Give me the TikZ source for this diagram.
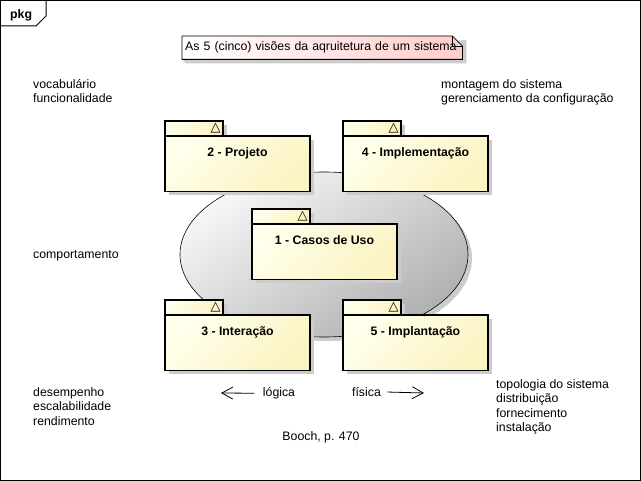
\documentclass[tikz,border=0pt]{standalone}
\usepackage{fontspec}
\setmainfont{Liberation Sans}
\newfontfamily\symbfont{DejaVu Sans}
\usepackage{xcolor}
\usetikzlibrary{positioning, arrows.meta, shadows, shapes.geometric, backgrounds}

\definecolor{pkgfillA}{HTML}{FFFFEC}
\definecolor{pkgfillB}{HTML}{FBF3C2}
\definecolor{notepink}{HTML}{FFCCCC}

\begin{document}
\begin{tikzpicture}[x=1pt, y=-1pt,
        font=\fontsize{12.3}{14.5}\selectfont,
        shadowed/.style={drop shadow={shadow xshift=4pt, shadow yshift=-4pt, fill=gray!40, opacity=1}},
        pkgbody/.style={draw, line width=1.8pt, outer sep=0pt, inner sep=0pt, anchor=north west,
            minimum width=145pt, text height=21pt, text depth=34.5pt,
            font=\fontsize{12.3}{14.5}\selectfont\bfseries,
            top color=pkgfillA, bottom color=pkgfillB, shading angle=45, shadowed},
        pkgtab/.style={draw, line width=1.8pt, outer sep=0pt, inner xsep=2.5pt, inner ysep=0pt,
            minimum height=15pt, text width=53pt, align=right, anchor=north west,
            font=\symbfont\fontsize{13}{13}\selectfont,
            top color=pkgfillA, bottom color=pkgfillB, shading angle=45, shadowed},
        txtblock/.style={anchor=base west, align=left, inner sep=0pt},
        viewarrow/.style={-{Straight Barb[length=11pt, width=12pt]}, line width=0.8pt}]

        \useasboundingbox (0,0) rectangle (641,481);

        % Frame
        \draw[line width=1pt] (0.5,0.5) rectangle (640.5,480.5);
        \draw[line width=1pt] (0.5,26) -- (36,26) -- (46,16) -- (46,0.5);
        \node[anchor=base west, inner sep=0pt, font=\fontsize{12.3}{14.5}\selectfont\bfseries] (pkg) at (10,18.5) {pkg};

        % Note
        \node[anchor=north west, minimum height=23pt, text width=274pt, inner xsep=3pt, inner ysep=0pt, align=left] (note) at (182,36)
            {As 5 (cinco) visões da aqruitetura de um sistema};
        \begin{scope}[on background layer]
            \fill[gray!40] ([xshift=4pt, yshift=-4pt]note.north east) -- ([xshift=4pt, yshift=-4pt]note.south east)
                -- ([xshift=4pt, yshift=-4pt]note.south west) -- (note.south west) -- cycle;
            \shade[left color=white, right color=notepink, draw=black, line width=0.8pt]
                (note.north west) -- ([xshift=-10pt]note.north east) -- ([yshift=-10pt]note.north east)
                -- (note.south east) -- (note.south west) -- cycle;
            \draw[line width=0.8pt] ([xshift=-10pt]note.north east) -- ([xshift=-10pt, yshift=-10pt]note.north east)
                -- ([yshift=-10pt]note.north east);
        \end{scope}

        % Views
        \node[ellipse, draw=black, line width=0.6pt, minimum width=288pt, minimum height=165pt,
            top color=gray!6, bottom color=gray!62, shading angle=35, shadowed] (views) at (324,254.5) {};

        % Packages
        \node[pkgtab] (projetotab) at (165,121) {△};
        \node[pkgtab] (implementacaotab) [right=120pt of projetotab] {△};
        \node[pkgtab] (casostab) at (252,209) {△};
        \node[pkgtab] (interacaotab) at (165,300) {△};
        \node[pkgtab] (implantacaotab) [right=120pt of interacaotab] {△};

        \node[pkgbody] (projeto) at (projetotab.south west) {2 - Projeto};
        \node[pkgbody] (implementacao) at (implementacaotab.south west) {4 - Implementação};
        \node[pkgbody] (casos) at (casostab.south west) {1 - Casos de Uso};
        \node[pkgbody] (interacao) at (interacaotab.south west) {3 - Interação};
        \node[pkgbody] (implantacao) at (implantacaotab.south west) {5 - Implantação};

        % Concerns
        \node[txtblock] (vocabulario) at (33,103) {vocabulário\\funcionalidade};
        \node[txtblock] (montagem) at (441,103) {montagem do sistema\\gerenciamento da configuração};
        \node[txtblock] (comportamento) at (33,258.5) {comportamento};
        \node[txtblock] (desempenho) at (33,425.5) {desempenho\\escalabilidade\\rendimento};
        \node[txtblock] (topologia) at (496,432) {topologia do sistema\\distribuição\\fornecimento\\instalação};

        % Arrows
        \node[anchor=base] (logica) at (279,396.5) {lógica};
        \node[anchor=base] (fisica) at (366.5,396.5) {física};
        \coordinate (logicaend) at (221,393);
        \coordinate (fisicaend) at (424,393);
        \draw[viewarrow] ([xshift=-5pt]logica.west) -- (logicaend);
        \draw[viewarrow] ([xshift=3pt]fisica.east) -- (fisicaend);

        \node[anchor=base] (booch) at (321,441) {Booch, p. 470};
    \end{tikzpicture}
\end{document}
